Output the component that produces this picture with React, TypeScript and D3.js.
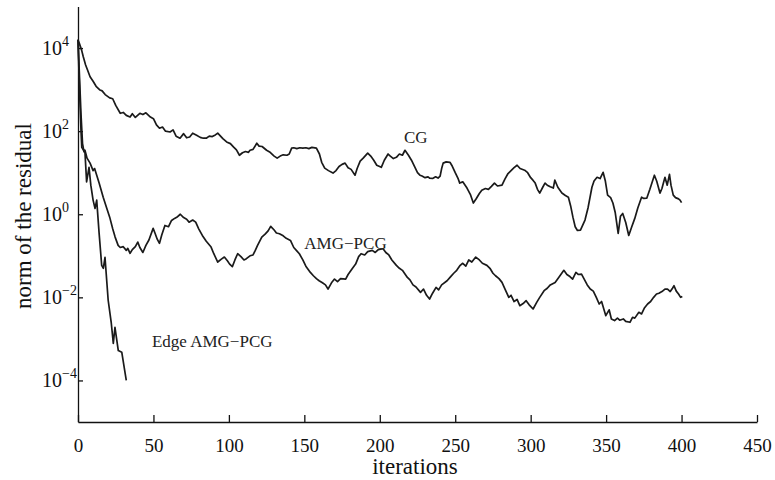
import * as d3 from "d3";
import React, { useEffect, useRef } from "react";

// [iteration, log10 of residual norm]
const cgPoints: [number, number][] = [
  [0, 4.2], [1, 4.1], [2.4, 3.95], [3.5, 3.79], [5, 3.6], [6, 3.5], [8, 3.31], [10, 3.2],
  [12, 3.08], [14.6, 2.99], [16, 2.97], [18, 2.88], [21, 2.8], [23, 2.78], [25, 2.62],
  [28, 2.43], [30, 2.45], [32, 2.38], [34.5, 2.34], [36, 2.42], [38, 2.33], [41, 2.43],
  [43, 2.4], [45, 2.44], [48, 2.34], [50, 2.3], [52, 2.15], [54, 2.07], [56, 2.1], [58, 2.0],
  [61, 1.98], [63, 2.03], [65, 1.88], [67.6, 1.83], [70, 1.94], [72, 1.84], [74, 1.86],
  [76, 1.95], [78.6, 1.9], [81, 1.85], [83, 1.83], [85, 1.83], [87, 1.88], [89, 1.87],
  [91, 1.91], [92.6, 1.95], [94, 1.9], [96, 1.82], [98.5, 1.74], [101, 1.7], [103, 1.62],
  [105, 1.55], [107, 1.42], [109, 1.48], [111, 1.51], [113, 1.49], [114, 1.54], [116, 1.56],
  [118.5, 1.71], [120, 1.64], [122, 1.63], [125, 1.54], [127, 1.5], [130, 1.4], [132, 1.35],
  [134, 1.4], [136, 1.43], [138.5, 1.42], [140, 1.45], [141.6, 1.59], [143, 1.6], [145, 1.58],
  [147, 1.6], [149, 1.59], [151, 1.6], [153, 1.58], [155, 1.61], [158, 1.59], [160, 1.45],
  [161.5, 1.25], [163.5, 1.11], [166, 1.05], [169, 0.99], [171, 1.05], [173, 1.15], [175, 1.2],
  [177, 1.23], [179, 1.12], [181, 1.08], [183.6, 0.94], [185, 1.1], [187, 1.28], [189, 1.35],
  [192, 1.47], [194, 1.4], [196, 1.3], [198, 1.18], [201, 1.13], [203, 1.3], [205.5, 1.45],
  [207, 1.4], [209, 1.34], [211, 1.37], [213, 1.45], [215, 1.42], [216.7, 1.54], [219, 1.42],
  [221, 1.3], [223, 1.15], [225, 1.0], [226.6, 0.94], [228, 0.92], [230, 0.88], [232, 0.9],
  [233, 0.87], [235, 0.86], [237, 0.9], [238.6, 0.87], [240, 0.92], [241, 1.1], [242, 1.23],
  [244, 1.26], [246.5, 1.25], [248, 1.16], [250, 1.0], [252, 0.85], [253, 0.75], [255, 0.78],
  [257.8, 0.63], [260, 0.48], [262, 0.27], [264, 0.38], [266, 0.5], [267.6, 0.58], [270, 0.62],
  [272, 0.6], [274, 0.67], [276, 0.75], [278, 0.68], [281, 0.7], [283, 0.85], [285, 0.98],
  [287, 1.05], [289, 1.12], [291, 1.18], [293, 1.1], [296, 1.06], [298, 1.0], [300, 0.88],
  [301.5, 0.82], [303, 0.75], [304.5, 0.6], [306, 0.51], [308, 0.65], [309.5, 0.75], [311, 0.7],
  [313, 0.66], [315, 0.63], [316, 0.82], [318, 0.65], [320.7, 0.51], [323, 0.45], [325, 0.41],
  [326.5, 0.2], [328, -0.07], [329.5, -0.3], [331, -0.39], [333, -0.38], [336, -0.14],
  [338, 0.15], [340.6, 0.65], [342, 0.8], [344, 0.89], [346, 0.86], [348, 1.01], [349.5, 0.8],
  [351, 0.46], [353, 0.4], [354.5, 0.27], [356, 0.05], [358, -0.46], [359.5, -0.05], [361, 0.02],
  [363, -0.2], [365, -0.51], [367, -0.3], [369, -0.1], [371, 0.15], [373.5, 0.41], [375, 0.38],
  [377, 0.39], [379, 0.6], [382, 0.94], [383.5, 0.8], [385.7, 0.51], [387, 0.62], [389, 0.89],
  [390.5, 0.7], [392, 0.96], [393, 0.7], [394.5, 0.46], [396, 0.4], [398, 0.37], [399, 0.34],
  [400, 0.28],
];

const amgPoints: [number, number][] = [
  [0, 4.2], [1, 3.3], [2, 2.4], [3, 1.7], [4, 1.5], [4.6, 1.54], [6, 1.35], [8, 1.23],
  [10, 1.05], [11, 1.1], [12.4, 0.94], [14, 0.75], [16.7, 0.41], [19, 0.15], [21, -0.07],
  [23, -0.35], [24.6, -0.55], [26.6, -0.75], [28, -0.8], [30, -0.78], [32, -0.87], [33, -0.82],
  [34.5, -0.94], [36, -0.85], [38, -0.78], [39.6, -0.67], [41, -0.8], [43, -0.92], [45, -0.75],
  [47, -0.62], [49.8, -0.34], [51, -0.45], [52.5, -0.6], [54, -0.7], [55.5, -0.5], [57.6, -0.27],
  [60, -0.3], [62, -0.15], [64, -0.1], [66, -0.06], [67.8, 0.0], [70, -0.08], [72, -0.12],
  [73.6, -0.19], [76, -0.14], [78, -0.19], [80, -0.35], [82.4, -0.51], [85, -0.65],
  [88.2, -0.79], [90, -0.95], [92.6, -1.15], [95, -1.08], [97, -1.03], [99, -1.12],
  [100.5, -1.2], [102.3, -1.26], [104, -1.1], [105.8, -0.95], [108, -1.02], [110, -1.1],
  [111.6, -1.07], [114, -1.0], [116, -0.98], [117.5, -0.87], [119, -0.75], [121.8, -0.55],
  [124, -0.48], [126, -0.4], [127.7, -0.29], [130, -0.38], [131.5, -0.45], [133.5, -0.47],
  [136, -0.52], [138, -0.58], [140.8, -0.63], [143, -0.8], [145, -0.88], [146.7, -0.95],
  [149, -1.1], [151, -1.25], [154, -1.4], [156, -1.48], [158, -1.55], [159.8, -1.6],
  [162, -1.65], [164, -1.7], [165.7, -1.8], [168, -1.65], [170, -1.56], [172, -1.62],
  [174, -1.55], [177.4, -1.56], [179, -1.45], [181.7, -1.31], [184, -1.2], [186, -1.02],
  [187.6, -0.95], [190, -0.98], [192, -0.9], [195, -0.87], [197, -0.92], [199, -0.85],
  [202.2, -0.83], [204, -0.92], [206, -0.98], [208, -1.1], [211, -1.23], [213, -1.3],
  [215, -1.35], [218.3, -1.52], [220, -1.58], [222, -1.7], [224, -1.75], [227, -1.88],
  [229, -1.8], [231, -1.95], [233, -2.04], [235, -1.9], [237.3, -1.76], [239, -1.82],
  [241, -1.7], [244.6, -1.6], [247, -1.5], [249, -1.42], [251, -1.35], [253.3, -1.23],
  [255, -1.18], [257, -1.25], [259, -1.1], [261, -1.15], [263.6, -1.03], [266, -1.1],
  [268, -1.18], [271, -1.23], [273, -1.3], [275, -1.42], [276.7, -1.48], [279, -1.55],
  [281, -1.64], [283, -1.8], [285.5, -2.0], [287, -1.95], [289, -2.1], [291, -2.05],
  [292.8, -2.2], [295, -2.15], [297, -2.08], [299, -2.18], [301.6, -2.28], [304, -2.12],
  [306, -2.0], [308.9, -1.84], [311, -1.78], [313, -1.7], [316.2, -1.64], [318, -1.55],
  [320, -1.45], [322, -1.35], [324, -1.45], [326, -1.5], [327.8, -1.56], [330, -1.4],
  [331.5, -1.45], [333.7, -1.44], [336, -1.6], [337.5, -1.7], [339.5, -1.8], [341.5, -1.85],
  [343.5, -2.0], [345.4, -2.16], [347, -2.1], [349.8, -2.44], [352, -2.3], [353.5, -2.52],
  [355.6, -2.56], [357.5, -2.5], [359, -2.55], [361.4, -2.52], [363, -2.58], [365.8, -2.6],
  [367.5, -2.48], [369, -2.5], [371.7, -2.36], [373.5, -2.4], [375.5, -2.25], [377.5, -2.16],
  [379.5, -2.1], [381.5, -2.0], [383.4, -1.92], [385, -1.9], [387, -1.86], [389, -1.8],
  [390.7, -1.8], [392.5, -1.86], [394, -1.78], [395, -1.72], [396.5, -1.85], [398, -1.92],
  [399.4, -2.0], [400.5, -1.98],
];

const edgePoints: [number, number][] = [
  [0, 4.2], [1, 3.0], [2, 2.0], [2.5, 1.61], [3.5, 1.55], [4.6, 1.5], [5.7, 0.78], [7.3, 1.13],
  [8.5, 0.7], [10, 0.34], [11.3, 0.14], [12.4, 0.34], [14, -0.46], [15.7, -1.23], [16.8, -1.3],
  [17.9, -1.04], [20, -2.07], [22, -2.6], [23.4, -3.11], [24.5, -2.72], [26.7, -3.28],
  [29, -3.32], [32, -4.0],
];

const xTicks = [0, 50, 100, 150, 200, 250, 300, 350, 400, 450];
const yTickExponents = [-4, -2, 0, 2, 4];

const curveLabels = [
  { text: "CG", at: [216, 1.72] },
  { text: "AMG\u2212PCG", at: [150, -0.84] },
  { text: "Edge AMG\u2212PCG", at: [49, -3.2] },
];

const App = () => {
  const svgRef = useRef<SVGSVGElement>(null);

  useEffect(() => {
    const dims = { width: 775, height: 480, left: 78, right: 757, top: 6.5, bottom: 422 };
    const font = "'Liberation Serif', 'Times New Roman', serif";

    const svg = d3.select(svgRef.current);
    svg.selectAll("*").remove();

    const x = d3.scaleLinear([0, 450], [dims.left, dims.right]);
    const y = d3.scaleLog([1e-5, 1e5], [dims.bottom, dims.top]);

    // x axis, ticks pointing inward
    svg
      .append("g")
      .attr("transform", `translate(0, ${dims.bottom})`)
      .call(d3.axisBottom(x).tickValues(xTicks).tickSizeInner(-7).tickSizeOuter(0))
      .call((g) => {
        g.select(".domain").attr("stroke", "#111").attr("stroke-width", 1.3);
        g.selectAll(".tick line").attr("stroke", "#111").attr("stroke-width", 1.3);
        g.selectAll(".tick text")
          .attr("y", 30)
          .attr("dy", null)
          .attr("fill", "#111")
          .attr("font-family", font)
          .attr("font-size", 19);
      });

    // y axis (log), labels drawn as 10^k
    svg
      .append("g")
      .attr("transform", `translate(${dims.left}, 0)`)
      .call(
        d3
          .axisLeft(y)
          .tickValues(yTickExponents.map((e) => Math.pow(10, e)))
          .tickSizeInner(-5)
          .tickSizeOuter(0)
          .tickFormat(() => "")
      )
      .call((g) => {
        g.select(".domain").attr("stroke", "#111").attr("stroke-width", 1.3);
        g.selectAll(".tick line").attr("stroke", "#111").attr("stroke-width", 1.3);
      });

    const yLabels = svg.append("g").attr("font-family", font).attr("fill", "#111");
    yTickExponents.forEach((e) => {
      const t = yLabels
        .append("text")
        .attr("x", 42)
        .attr("y", y(Math.pow(10, e)) + 7)
        .attr("font-size", 20);
      t.append("tspan").text("10");
      t.append("tspan")
        .attr("dy", -9)
        .attr("font-size", 14)
        .text(e < 0 ? `\u2212${-e}` : `${e}`);
    });

    // axis titles
    svg
      .append("text")
      .attr("x", 415)
      .attr("y", 474)
      .attr("text-anchor", "middle")
      .attr("font-family", font)
      .attr("font-size", 23)
      .attr("fill", "#111")
      .text("iterations");

    svg
      .append("text")
      .attr("transform", `translate(31, 216) rotate(-90)`)
      .attr("text-anchor", "middle")
      .attr("font-family", font)
      .attr("font-size", 23)
      .attr("fill", "#111")
      .text("norm of the residual");

    // curves
    const line = d3
      .line<[number, number]>()
      .x((d) => x(d[0]))
      .y((d) => y(Math.pow(10, d[1])));

    [cgPoints, amgPoints, edgePoints].forEach((pts) => {
      svg
        .append("path")
        .attr("d", line(pts))
        .attr("fill", "none")
        .attr("stroke", "#1a1a1a")
        .attr("stroke-width", 1.7)
        .attr("stroke-linejoin", "round");
    });

    curveLabels.forEach((l) => {
      svg
        .append("text")
        .attr("x", x(l.at[0]))
        .attr("y", y(Math.pow(10, l.at[1])))
        .attr("font-family", font)
        .attr("font-size", 17)
        .attr("fill", "#222")
        .text(l.text);
    });
  }, []);

  return (
    <svg
      ref={svgRef}
      width={775}
      height={480}
      style={{ position: "absolute", left: 0, top: 0, background: "#fff" }}
    />
  );
};

export default App;
